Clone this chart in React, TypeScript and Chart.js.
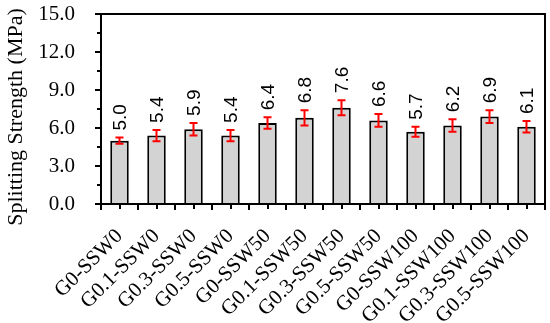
import React, { useEffect, useRef } from "react";
import { Chart, registerables } from "chart.js";

Chart.register(...registerables);

const categories = [
  "G0-SSW0", "G0.1-SSW0", "G0.3-SSW0", "G0.5-SSW0",
  "G0-SSW50", "G0.1-SSW50", "G0.3-SSW50", "G0.5-SSW50",
  "G0-SSW100", "G0.1-SSW100", "G0.3-SSW100", "G0.5-SSW100",
];
const strengthValues = [5.0, 5.4, 5.9, 5.4, 6.4, 6.8, 7.6, 6.6, 5.7, 6.2, 6.9, 6.1];
const errorValues = [0.25, 0.45, 0.5, 0.45, 0.45, 0.6, 0.6, 0.5, 0.4, 0.5, 0.5, 0.45];
const yTickValues = [0, 3, 6, 9, 12, 15];
const yAxisTitle = "Splitting Strength (MPa)";

const SERIF = '"Liberation Serif", "Times New Roman", serif';
const SANS = '"Liberation Sans", Arial, sans-serif';

const decorPlugin = {
  id: "decor",
  afterDatasetsDraw(chart: any) {
    const { ctx, chartArea, scales } = chart;
    const x = scales.x;
    const y = scales.y;
    const meta = chart.getDatasetMeta(0);
    ctx.save();
    // error bars
    ctx.strokeStyle = "#ff0000";
    ctx.lineWidth = 2;
    meta.data.forEach((bar: any, i: number) => {
      const v = strengthValues[i];
      const e = errorValues[i];
      const yt = y.getPixelForValue(v + e);
      const yb = y.getPixelForValue(v - e);
      const cx = bar.x;
      ctx.beginPath();
      ctx.moveTo(cx, yt);
      ctx.lineTo(cx, yb);
      ctx.moveTo(cx - 4, yt);
      ctx.lineTo(cx + 4, yt);
      ctx.moveTo(cx - 4, yb);
      ctx.lineTo(cx + 4, yb);
      ctx.stroke();
    });
    // value labels
    ctx.fillStyle = "#000";
    ctx.font = `19px ${SANS}`;
    meta.data.forEach((bar: any, i: number) => {
      const v = strengthValues[i];
      const e = errorValues[i];
      const yt = y.getPixelForValue(v + e);
      ctx.save();
      ctx.translate(bar.x, yt - 7);
      ctx.rotate(-Math.PI / 2);
      ctx.textAlign = "left";
      ctx.textBaseline = "middle";
      ctx.fillText(v.toFixed(1), 0, 1);
      ctx.restore();
    });
    // frame
    ctx.strokeStyle = "#000";
    ctx.lineWidth = 2;
    ctx.strokeRect(chartArea.left, chartArea.top, chartArea.right - chartArea.left, chartArea.bottom - chartArea.top);
    // y ticks (major + minor)
    ctx.beginPath();
    for (let t = 0; t <= 15.0001; t += 1.5) {
      const py = Math.round(y.getPixelForValue(t));
      const major = Math.abs(t / 3 - Math.round(t / 3)) < 1e-6;
      const len = major ? 6 : 4;
      ctx.moveTo(chartArea.left - len, py);
      ctx.lineTo(chartArea.left, py);
    }
    // x ticks: boundaries and centers
    for (let i = 0; i <= categories.length; i++) {
      const px = Math.round(x.getPixelForValue(i - 0.5));
      ctx.moveTo(px, chartArea.bottom);
      ctx.lineTo(px, chartArea.bottom + 6);
    }
    for (let i = 0; i < categories.length; i++) {
      const px = Math.round(x.getPixelForValue(i));
      ctx.moveTo(px, chartArea.bottom);
      ctx.lineTo(px, chartArea.bottom + 5);
    }
    ctx.stroke();
    // y axis title
    ctx.fillStyle = "#000";
    ctx.font = `22px ${SERIF}`;
    ctx.save();
    ctx.translate(16, 117);
    ctx.rotate(-Math.PI / 2);
    ctx.textAlign = "center";
    ctx.textBaseline = "middle";
    ctx.fillText(yAxisTitle, 0, 0);
    ctx.restore();
    ctx.restore();
  },
};

export default function App() {
  const canvasRef = useRef<HTMLCanvasElement | null>(null);

  useEffect(() => {
    if (!canvasRef.current) return;
    const chart = new Chart(canvasRef.current, {
      type: "bar",
      data: {
        labels: categories,
        datasets: [
          {
            data: strengthValues,
            backgroundColor: "#d3d3d3",
            borderColor: "#000000",
            borderWidth: 2,
            barPercentage: 0.5,
            categoryPercentage: 1,
          },
        ],
      },
      options: {
        responsive: false,
        animation: false,
        events: [],
        layout: { autoPadding: false, padding: { top: 14, right: 5, left: 0, bottom: 0 } },
        plugins: {
          legend: { display: false },
          tooltip: { enabled: false },
        },
        scales: {
          x: {
            offset: true,
            grid: { display: false },
            border: { display: false },
            ticks: {
              autoSkip: false,
              minRotation: 45,
              maxRotation: 45,
              padding: 12,
              color: "#000",
              font: { family: SERIF, size: 21 },
            },
            afterFit: (scale: any) => {
              scale.height = 119;
              scale.paddingLeft = 0;
              scale.paddingRight = 0;
            },
          },
          y: {
            min: 0,
            max: 15,
            grid: { display: false },
            border: { display: false },
            afterBuildTicks: (scale: any) => {
              scale.ticks = yTickValues.map((v) => ({ value: v }));
            },
            ticks: {
              padding: 18,
              color: "#000",
              font: { family: SERIF, size: 21 },
              callback: (v: any) => Number(v).toFixed(1),
            },
            afterFit: (scale: any) => {
              scale.width = 101;
              scale.paddingTop = 0;
              scale.paddingBottom = 0;
            },
          },
        },
      },
      plugins: [decorPlugin],
    });
    return () => chart.destroy();
  }, []);

  return (
    <div style={{ position: "absolute", left: 0, top: 0, width: 550, height: 323 }}>
      <canvas ref={canvasRef} width={550} height={323} />
    </div>
  );
}
